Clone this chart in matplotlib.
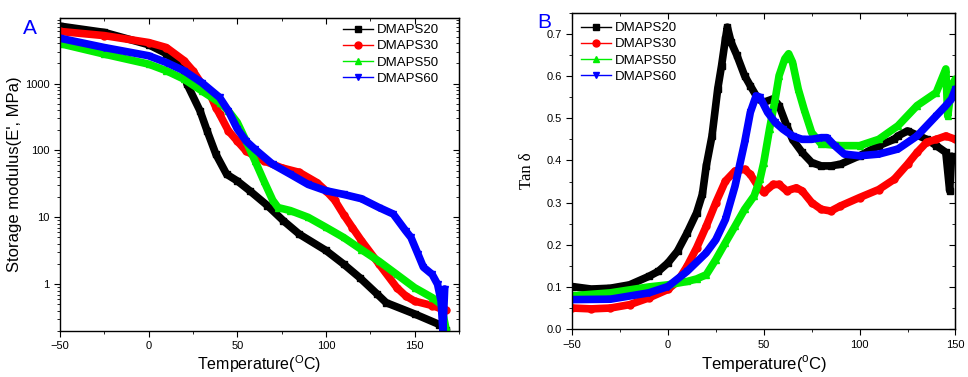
import matplotlib
matplotlib.use("Agg")
import matplotlib.pyplot as plt
from matplotlib.ticker import MultipleLocator, LogLocator, NullFormatter, FixedLocator, FixedFormatter

plt.rcParams['font.family'] = ['Liberation Sans', 'DejaVu Sans']
plt.rcParams['mathtext.fontset'] = 'custom'
plt.rcParams['mathtext.rm'] = 'Liberation Sans'

# Panel A: storage modulus (MPa) vs temperature
tA20 = [-50, -25, 0, 10, 20, 21.5, 29, 33, 38, 44, 50, 57, 67, 76, 85, 100, 110, 119, 129, 134, 150, 164, 168]
eA20 = [7200, 5800, 3800, 2800, 1600, 1000, 390, 196, 87, 44, 35, 25, 15, 8.9, 5.6, 3.2, 2.0, 1.26, 0.71, 0.53, 0.36, 0.25, 0.21]
tA30 = [-50, -25, 0, 10, 20, 25, 30, 35, 38, 40, 45, 50, 55, 60, 65, 75, 85, 95, 100, 105, 110, 115, 120, 130, 140, 145, 150, 160, 165, 168]
eA30 = [6000, 5200, 4100, 3450, 2200, 1550, 980, 660, 435, 350, 196, 138, 98, 82, 70, 55, 47, 33, 25, 18, 11, 7, 4.5, 2.0, 0.89, 0.67, 0.56, 0.48, 0.43, 0.41]
tA50 = [-50, -25, 0, 10, 20, 30, 40, 45, 50, 55, 60, 65, 70, 73, 80, 90, 100, 110, 120, 130, 140, 150, 160, 165, 168]
eA50 = [3950, 2750, 1950, 1550, 1160, 775, 520, 390, 262, 138, 70, 35, 18, 14, 12.6, 10, 7.1, 5.0, 3.3, 2.2, 1.4, 0.89, 0.63, 0.5, 0.2]
tA60 = [-50, -25, 0, 10, 20, 30, 40, 45, 50, 55, 60, 70, 80, 90, 100, 110, 120, 130, 138, 145, 148, 152, 155, 160, 163, 165, 166, 167]
eA60 = [4750, 3450, 2600, 2060, 1550, 1030, 620, 390, 210, 138, 104, 62, 44, 31, 25, 22, 19, 14, 11.2, 6.3, 5.0, 2.8, 1.8, 1.4, 1.0, 0.56, 0.2, 0.85]

# Panel B: tan delta vs temperature
tB20 = [-50, -40, -30, -20, -10, -5, 0, 5, 10, 15, 18, 20, 23, 26, 28, 30, 31, 33, 36, 40, 43, 47, 50, 55, 58, 62, 65, 70, 75, 80, 85, 90, 100, 110, 118, 120, 125, 135, 140, 145, 147, 148, 150]
dB20 = [0.101, 0.095, 0.097, 0.105, 0.125, 0.137, 0.157, 0.185, 0.228, 0.276, 0.32, 0.387, 0.458, 0.57, 0.625, 0.688, 0.716, 0.68, 0.649, 0.601, 0.577, 0.546, 0.538, 0.546, 0.53, 0.482, 0.45, 0.419, 0.395, 0.387, 0.387, 0.391, 0.411, 0.435, 0.45, 0.458, 0.47, 0.45, 0.435, 0.419, 0.328, 0.41, 0.403]
tB30 = [-50, -40, -30, -20, -10, 0, 5, 10, 15, 20, 25, 30, 35, 40, 43, 47, 50, 55, 58, 62, 67, 70, 75, 80, 85, 90, 100, 110, 118, 125, 130, 135, 140, 145, 150]
dB30 = [0.05, 0.048, 0.05, 0.058, 0.074, 0.094, 0.113, 0.149, 0.193, 0.244, 0.30, 0.351, 0.375, 0.379, 0.367, 0.339, 0.324, 0.343, 0.343, 0.328, 0.335, 0.328, 0.30, 0.284, 0.28, 0.292, 0.312, 0.331, 0.355, 0.391, 0.419, 0.443, 0.45, 0.458, 0.45]
tB50 = [-50, -30, -10, 0, 10, 15, 20, 25, 30, 35, 40, 45, 48, 50, 53, 56, 58, 61, 63, 65, 68, 71, 75, 80, 90, 100, 110, 120, 130, 140, 145, 146, 148, 150]
dB50 = [0.079, 0.086, 0.10, 0.105, 0.113, 0.119, 0.129, 0.165, 0.205, 0.244, 0.284, 0.316, 0.355, 0.395, 0.474, 0.546, 0.601, 0.641, 0.653, 0.633, 0.569, 0.522, 0.466, 0.439, 0.435, 0.435, 0.45, 0.482, 0.53, 0.561, 0.617, 0.505, 0.577, 0.593]
tB60 = [-50, -30, -10, 0, 10, 20, 25, 30, 35, 40, 43, 46, 48, 52, 56, 60, 65, 70, 75, 80, 83, 87, 92, 100, 110, 120, 130, 140, 145, 148, 150]
dB60 = [0.07, 0.071, 0.086, 0.101, 0.137, 0.181, 0.212, 0.26, 0.339, 0.442, 0.514, 0.553, 0.55, 0.514, 0.49, 0.474, 0.458, 0.45, 0.45, 0.454, 0.454, 0.435, 0.415, 0.411, 0.415, 0.427, 0.458, 0.506, 0.53, 0.546, 0.569]

names = ['DMAPS20', 'DMAPS30', 'DMAPS50', 'DMAPS60']
colors = ['#000000', '#ff0000', '#00ee00', '#0000ff']
markers = ['s', 'o', '^', 'v']

fig = plt.figure(figsize=(9.68, 3.77), dpi=100)
axA = fig.add_axes([0.062, 0.122, 0.412, 0.830])
axB = fig.add_axes([0.591, 0.127, 0.396, 0.839])

seriesA = [(tA20, eA20), (tA30, eA30), (tA50, eA50), (tA60, eA60)]
seriesB = [(tB20, dB20), (tB30, dB30), (tB50, dB50), (tB60, dB60)]

for ax, series in [(axA, seriesA), (axB, seriesB)]:
    for (t, v), name, c, m in zip(series, names, colors, markers):
        ax.plot(t, v, color=c, lw=5.5, marker=m, ms=5, mec=c, mfc=c,
                solid_capstyle='round', solid_joinstyle='round')
        # legend proxy: thin line with one marker
        ax.plot([], [], color=c, lw=1, marker=m, ms=5, label=name)

# panel A axes
axA.set_yscale('log')
axA.set_xlim(-50, 175)
axA.set_ylim(0.2, 9500)
axA.xaxis.set_major_locator(MultipleLocator(50))
axA.xaxis.set_minor_locator(MultipleLocator(25))
axA.yaxis.set_major_locator(FixedLocator([1, 10, 100, 1000]))
axA.yaxis.set_major_formatter(FixedFormatter(['1', '10', '100', '1000']))
axA.yaxis.set_minor_locator(LogLocator(base=10, subs=range(2, 10)))
axA.yaxis.set_minor_formatter(NullFormatter())
axA.set_xlabel('Temperature($^{\\rm O}$C)', fontsize=11.5, labelpad=1)
axA.set_ylabel("Storage modulus(E', MPa)", fontsize=12, labelpad=2)
fig.text(0.024, 0.925, 'A', color='#0000ff', fontsize=15, va='center', ha='left')
axA.legend(loc='upper left', bbox_to_anchor=(343 / 968, 1 - 24 / 377),
           bbox_transform=fig.transFigure, frameon=False, fontsize=9.5,
           handlelength=2.3, handletextpad=0.3, labelspacing=0.3, borderaxespad=0, borderpad=0)

# panel B axes
axB.set_xlim(-50, 150)
axB.set_ylim(0, 0.75)
axB.xaxis.set_major_locator(MultipleLocator(50))
axB.xaxis.set_minor_locator(MultipleLocator(25))
axB.yaxis.set_major_locator(MultipleLocator(0.1))
axB.yaxis.set_minor_locator(MultipleLocator(0.05))
axB.yaxis.set_major_formatter(plt.FormatStrFormatter('%.1f'))
axB.set_xlabel('Temperature($^{\\rm o}$C)', fontsize=12, labelpad=3)
axB.set_ylabel('Tan \u03b4', fontsize=12, family=['Liberation Serif', 'DejaVu Serif'], labelpad=8)
fig.text(0.555, 0.94, 'B', color='#0000ff', fontsize=15, va='center', ha='left')
axB.legend(loc='upper left', bbox_to_anchor=(581 / 968, 1 - 22 / 377),
           bbox_transform=fig.transFigure, frameon=False, fontsize=9.5,
           handlelength=2.3, handletextpad=0.3, labelspacing=0.3, borderaxespad=0, borderpad=0)

for ax in (axA, axB):
    ax.tick_params(which='both', direction='out', labelsize=8)
    ax.tick_params(which='major', length=4)
    ax.tick_params(which='minor', length=2.5)
    for s in ax.spines.values():
        s.set_linewidth(1)
    # Origin-style inward ticks on top and right
    top = ax.secondary_xaxis('top')
    top.xaxis.set_major_locator(MultipleLocator(50))
    top.xaxis.set_minor_locator(MultipleLocator(25))
    top.tick_params(which='both', direction='in', labeltop=False)
    top.tick_params(which='major', length=4)
    top.tick_params(which='minor', length=2.5)
    right = ax.secondary_yaxis('right')
    if ax is axA:
        right.yaxis.set_major_locator(FixedLocator([1, 10, 100, 1000]))
        right.yaxis.set_minor_locator(LogLocator(base=10, subs=range(2, 10)))
    else:
        right.yaxis.set_major_locator(MultipleLocator(0.1))
        right.yaxis.set_minor_locator(MultipleLocator(0.05))
    right.tick_params(which='both', direction='in', labelright=False)
    right.tick_params(which='major', length=4)
    right.tick_params(which='minor', length=2.5)

fig.savefig('out.png', dpi=100)
